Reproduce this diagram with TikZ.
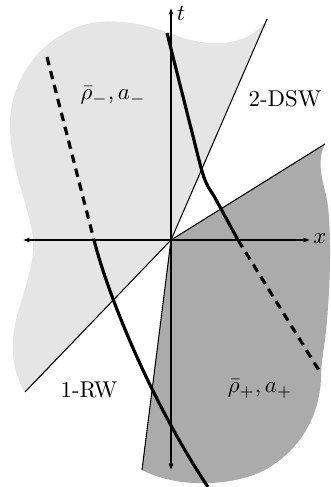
\documentclass[tikz,border=0pt]{standalone}
\usepackage{graphicx}
\usetikzlibrary{arrows.meta}
\definecolor{lightreg}{gray}{0.90}
\definecolor{darkreg}{gray}{0.67}
\newcommand\mysclabel[1]{\scalebox{1.3}{#1}}
\tikzset{
  axisline/.style={line width=0.6pt,{Latex[length=3.6pt,width=3pt]}-{Latex[length=3.6pt,width=3pt]}},
  waveline/.style={line width=0.6pt},
  thickcurve/.style={line width=1.8pt},
  thickdash/.style={line width=1.8pt,dash pattern=on 4.8pt off 3.4pt},
  lbl/.style={font=\normalsize,inner sep=0pt}
}
\begin{document}
\begin{tikzpicture}[x=0.02cm,y=-0.02cm]
\useasboundingbox (0,0) rectangle (331,487);
\coordinate (O) at (171,240);
\coordinate (rwend) at (25,392);
\coordinate (dswend) at (267,19);
\coordinate (upend) at (325,144);
\coordinate (steepend) at (142,470);
% light region
\fill[lightreg] (O) -- (rwend) .. controls (12,372) and (10,345) .. (16,320)
  .. controls (22,295) and (35,265) .. (33,240)
  .. controls (31,210) and (13,180) .. (10,130)
  .. controls (8,90) and (30,45) .. (80,26)
  .. controls (110,16) and (145,24) .. (170,33)
  .. controls (200,46) and (240,50) .. (264,24) -- cycle;
% dark region
\fill[darkreg] (O) -- (upend) .. controls (318,158) and (320,172) .. (326,195)
  .. controls (332,220) and (331,290) .. (325,340)
  .. controls (323,355) and (321,365) .. (321,378)
  .. controls (320,410) and (305,445) .. (270,467)
  .. controls (240,486) and (180,490) .. (steepend) -- cycle;
% wave boundary lines
\draw[waveline] (O) -- (dswend);
\draw[waveline] (O) -- (rwend);
\draw[waveline] (O) -- (upend);
\draw[waveline] (O) -- (steepend);
% axes
\coordinate (xl) at (23,240);
\coordinate (xr) at (310,240);
\coordinate (tb) at (171,470);
\coordinate (tt) at (171,8);
\draw[axisline] (xl) -- (xr);
\draw[axisline] (tb) -- (tt);
\node[lbl] (xlab) at (320,239) {\mysclabel{$x$}};
\node[lbl] (tlab) at (181,13) {\mysclabel{$t$}};
% thick curves
\coordinate (a1) at (167,33);
\coordinate (a2) at (238,240);
\coordinate (a3) at (320,372);
\draw[thickcurve] (a1) -- (199,160) .. controls (204,180) and (206,184) .. (214,196) -- (a2);
\draw[thickdash] (a2) -- (a3);
\coordinate (b1) at (47,57);
\coordinate (b2) at (94,240);
\coordinate (b3) at (208,487);
\draw[thickdash] (b1) -- (b2);
\draw[thickcurve] (b2) .. controls (108,295) and (150,400) .. (b3);
% labels
\node[lbl] (lminus) at (113,96) {\mysclabel{$\bar\rho_-, a_-$}};
\node[lbl] (ldsw) at (285,99) {\mysclabel{2-DSW}};
\node[lbl] (lrw) at (89,390) {\mysclabel{1-RW}};
\node[lbl] (lplus) at (260,389) {\mysclabel{$\bar\rho_+, a_+$}};
\end{tikzpicture}
\end{document}
